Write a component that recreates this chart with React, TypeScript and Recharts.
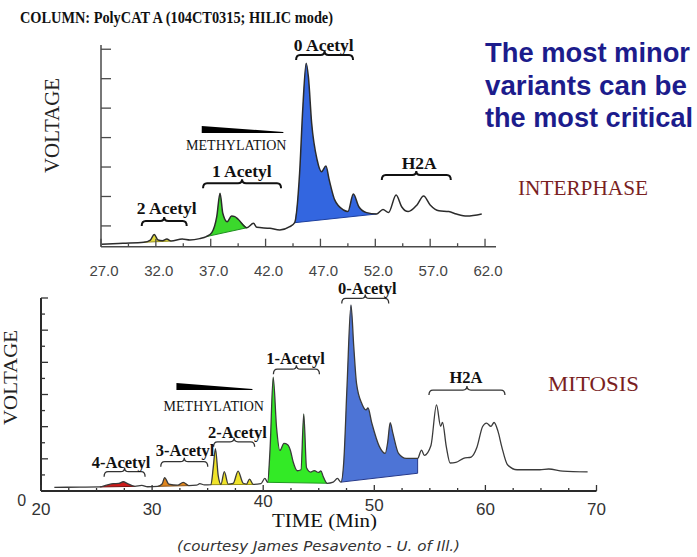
import React from 'react';
import { ComposedChart, Line, Area, XAxis, YAxis, ReferenceDot, ReferenceLine } from 'recharts';

const W = 697;
const H = 557;
const SERIF = '"Liberation Serif", "Times New Roman", serif';
const SANS = '"Liberation Sans", Arial, sans-serif';

// ---- INTERPHASE run (top panel): [time (min), voltage (% of axis)] ----
const interphaseTrace = [
  [27.06, 1.2], [29.0, 1.7], [30.9, 2.2], [31.5, 3.3], [31.85, 6.1], [32.2, 3.3], [32.6, 3.0],
  [33.0, 3.8], [33.4, 2.8], [34.4, 3.8], [35.1, 3.3], [36.0, 4.0], [36.6, 5.0], [37.1, 7.0],
  [37.55, 14.9], [37.85, 26.5], [38.1, 16.6], [38.5, 12.4], [38.9, 15.2], [39.2, 14.9], [39.5, 13.6],
  [40.3, 9.4], [40.9, 11.6], [41.2, 9.6], [42.4, 9.1], [43.3, 8.3], [44.2, 9.9], [44.65, 11.9],
  [45.1, 36.4], [45.4, 69.4], [45.7, 91.0], [45.9, 84.3], [46.2, 61.2], [46.7, 43.0], [47.1, 37.2],
  [47.5, 40.0], [47.8, 33.1], [48.3, 23.2], [49.1, 18.2], [49.5, 17.4], [50.0, 26.1], [50.5, 19.8],
  [51.2, 16.9], [52.1, 16.2], [52.7, 18.5], [53.2, 16.9], [53.9, 25.6], [54.4, 19.8], [55.0, 17.4],
  [55.8, 20.7], [56.4, 25.1], [57.0, 20.7], [57.8, 17.8], [58.7, 17.4], [59.4, 16.2], [60.35, 15.2],
  [61.7, 16.2],
];

// shaded peak groups: 2 acetyl, 1 acetyl, 0 acetyl
const interphaseBands = [
  { from: 30.9, to: 33.4, baseFrom: 2.2, baseTo: 2.8 },
  { from: 36.6, to: 40.3, baseFrom: 5.0, baseTo: 9.4 },
  { from: 44.65, to: 52.1, baseFrom: 11.9, baseTo: 16.2 },
];
const interphaseFills = ['#e4dc3c', '#3bd82c', '#3366e0'];
const interphaseEdges = ['#99921f', '#1f8f1f', '#1d3f9e'];

const interphaseXTicks = [27, 29.5, 32, 34.5, 37, 39.5, 42, 44.5, 47, 49.5, 52, 54.5, 57, 59.5, 62];
const interphaseYTicks = [10.3, 24.9, 39.5, 54.1, 68.7, 83.3, 97.9];

const interphaseLabels = [
  { text: '0 Acetyl', t: 47.3, v: 100.0 },
  { text: '1 Acetyl', t: 39.83, v: 37.5 },
  { text: '2 Acetyl', t: 32.99, v: 19.3 },
  { text: 'H2A', t: 56.0, v: 41.6 },
];
const interphaseBrackets = [
  { t1: 44.78, t2: 49.97, v: 95.0 },
  { t1: 36.3, t2: 43.41, v: 31.4 },
  { t1: 30.71, t2: 34.81, v: 12.7 },
  { t1: 52.59, t2: 58.88, v: 35.5 },
];
const interphaseWedge = { t1: 36.18, t2: 43.62, v: 56.4 };
const interphaseMethylation = { t: 39.33, v: 50.4 };

// ---- MITOSIS run (bottom panel) ----
const mitosisTrace = [
  [21.2, 1.9], [23.5, 2.0], [25.3, 2.1], [25.9, 3.0], [26.5, 3.8], [27.0, 3.9], [27.4, 4.8],
  [27.8, 3.8], [28.45, 2.4], [29.07, 2.9], [29.6, 2.2], [30.5, 2.4], [30.9, 3.6], [31.13, 6.9],
  [31.5, 3.6], [32.3, 3.0], [32.8, 4.5], [33.3, 2.8], [34.0, 3.0], [34.3, 3.8], [34.7, 3.2],
  [35.3, 3.3], [35.5, 12], [35.7, 22], [35.95, 8], [36.2, 3.5], [36.5, 10], [36.85, 3.6],
  [37.3, 4], [37.74, 10.3], [38.2, 4], [38.5, 3.6], [38.77, 6.2], [39.1, 3.4], [39.8, 3.8],
  [40.15, 6.5], [40.4, 4.5], [40.62, 22], [40.9, 59], [41.2, 33], [41.5, 21], [41.87, 24.7],
  [42.2, 24], [42.45, 21], [42.7, 15], [43.07, 10.5], [43.4, 11], [43.65, 40], [43.9, 12],
  [44.27, 9.8], [44.6, 10.6], [44.96, 9.6], [45.2, 10.4], [45.4, 7.5], [45.75, 4], [46.3, 4.6],
  [46.68, 6.5], [47.0, 4.6], [47.25, 15], [47.55, 55], [47.9, 96.4], [48.15, 75], [48.4, 55.8],
  [48.9, 45], [49.26, 42], [49.43, 43], [49.78, 35.1], [50.46, 23], [50.98, 19.5], [51.2, 25],
  [51.43, 35.4], [51.67, 30], [52.18, 19.5], [52.87, 16.9], [53.9, 16.9], [54.25, 21.2],
  [54.5, 18.5], [55.1, 23.6], [55.6, 44.6], [55.97, 33.5], [56.14, 35.5], [56.48, 23],
  [56.83, 14.5], [57.34, 14.8], [58.03, 16.9], [58.72, 17.6], [59.23, 22.5], [59.75, 33.4],
  [60.1, 35.2], [60.5, 33.5], [60.78, 35.5], [61.13, 31], [61.47, 23], [61.99, 13.6],
  [62.85, 11], [64.9, 11], [65.7, 11.4], [66.97, 10.3], [69.2, 9.9],
];

// shaded peak groups: 4, 3, 2, 1, 0 acetyl
const mitosisBands = [
  { from: 25.3, to: 28.45, baseFrom: 2.1, baseTo: 2.4 },
  { from: 30.5, to: 33.3, baseFrom: 2.4, baseTo: 2.8 },
  { from: 35.3, to: 39.1, baseFrom: 3.3, baseTo: 3.4 },
  { from: 40.4, to: 45.75, baseFrom: 4.5, baseTo: 4.0 },
  { from: 47.0, to: 53.9, baseFrom: 4.6, baseTo: 9.2 },
];
const mitosisFills = ['#cc1a1a', '#e0861e', '#f0e42a', '#33ea26', '#4d74d6'];
const mitosisEdges = ['#7a1010', '#8a5010', '#9a9018', '#1f9a1f', '#26398a'];

const mitosisXTicks = [20, 22.5, 25, 27.5, 30, 32.5, 35, 37.5, 40, 42.5, 45, 47.5, 50, 52.5, 55, 57.5, 60, 62.5, 65, 67.5, 70];
const mitosisYTicks = [0, 8.33, 16.67, 25, 33.33, 41.67, 50, 58.33, 66.67, 75, 83.33, 91.67, 100];

const mitosisLabels = [
  { text: '0-Acetyl', t: 49.37, v: 105.0 },
  { text: '1-Acetyl', t: 42.91, v: 68.8 },
  { text: 'H2A', t: 58.25, v: 58.9 },
  { text: '2-Acetyl', t: 37.68, v: 30.2 },
  { text: '3-Acetyl', t: 32.97, v: 20.9 },
  { text: '4-Acetyl', t: 27.21, v: 14.7 },
];
const mitosisBrackets = [
  { t1: 47.07, t2: 51.3, v: 99.8 },
  { t1: 40.92, t2: 45.06, v: 63.1 },
  { t1: 54.92, t2: 61.76, v: 52.3 },
  { t1: 35.53, t2: 39.23, v: 25.5 },
  { t1: 30.78, t2: 35.01, v: 15.2 },
  { t1: 25.68, t2: 29.37, v: 10.0 },
];
const mitosisWedge = { t1: 32.19, t2: 39.03, v: 52.3 };
const mitosisMethylation = { t: 35.55, v: 43.7 };

// ---------- helpers ----------
type Pt = { t: number; v: number };
const toPoints = (rows: number[][]): Pt[] => rows.map(([t, v]) => ({ t, v }));
const slice = (pts: Pt[], a: number, b: number) => pts.filter((p) => p.t >= a - 1e-9 && p.t <= b + 1e-9);
// white mask under the straight base line of a band (a hair wider so no seam shows)
const PAD = 0.08;
const maskOf = (b: { from: number; to: number; baseFrom: number; baseTo: number }) => [
  { t: b.from - PAD, v: b.baseFrom },
  { t: b.from, v: b.baseFrom },
  { t: b.to, v: b.baseTo },
  { t: b.to + PAD, v: b.baseTo },
];

const bracketShape = (weight: number, color: string) => (p: any) => {
  const { x1, x2, y1 } = p;
  const xm = (x1 + x2) / 2;
  const d = 5, u = 4, e = 4;
  const path =
    `M${x1},${y1 + d} Q${x1},${y1} ${x1 + e},${y1} L${xm - e},${y1} Q${xm},${y1} ${xm},${y1 - u} ` +
    `Q${xm},${y1} ${xm + e},${y1} L${x2 - e},${y1} Q${x2},${y1} ${x2},${y1 + d}`;
  return <path d={path} fill="none" stroke={color} strokeWidth={weight} />;
};

const wedgeShape = (p: any) => {
  const { x1, x2, y1 } = p;
  return <polygon points={`${x1},${y1 - 7} ${x2},${y1 - 1} ${x2},${y1} ${x1},${y1}`} fill="#000" />;
};

const edgeShape = (color: string) => (p: any) => (
  <line x1={p.x1} y1={p.y1} x2={p.x2} y2={p.y2} stroke={color} strokeWidth={1} />
);

const textShape = (text: string, size: number, bold: boolean) => (p: any) => (
  <text x={p.cx} y={p.cy} textAnchor="middle" dominantBaseline="central" fontFamily={SERIF}
    fontWeight={bold ? 'bold' : 'normal'} fontSize={size} fill="#111">
    {text}
  </text>
);

const TopXTick = ({ x, y, payload }: any) => {
  const v = payload.value as number;
  const k = (v - 27) / 5;
  const major = Math.abs(k - Math.round(k)) < 1e-6;
  return (
    <g>
      <line x1={x} x2={x} y1={y} y2={y - (major ? 8 : 3.5)} stroke="#4a4a4a" strokeWidth={1.3} />
      {major && (
        <text x={x + 3} y={y + 29.5} textAnchor="middle" fontFamily={SANS} fontSize={15} fill="#444">
          {v.toFixed(1)}
        </text>
      )}
    </g>
  );
};

const TopYTick = ({ x, y }: any) => (
  <line x1={x} x2={x + 10} y1={y} y2={y} stroke="#4a4a4a" strokeWidth={1.3} />
);

const labelLift: Record<number, number> = { 40: 8, 50: 4 };
const BottomXTick = ({ x, y, payload }: any) => {
  const v = payload.value as number;
  const major = Math.abs(v % 10) < 1e-6;
  return (
    <g>
      <line x1={x} x2={x} y1={y} y2={y - (major ? 6 : 3)} stroke="#333" strokeWidth={1.3} />
      {major && (
        <text x={x} y={y + 24 - (labelLift[v] || 0)} textAnchor="middle" fontFamily={SANS} fontSize={17} fill="#333">
          {v}
        </text>
      )}
    </g>
  );
};

const BottomYTick = ({ x, y, index }: any) => {
  if (index === 0) {
    return (
      <text x={x - 19.3} y={y + 15} textAnchor="middle" fontFamily={SANS} fontSize={16} fill="#333">0</text>
    );
  }
  return <line x1={x} x2={x + (index % 2 === 0 ? 7 : 4)} y1={y} y2={y} stroke="#333" strokeWidth={1.3} />;
};

const interphasePts = toPoints(interphaseTrace);
const mitosisPts = toPoints(mitosisTrace);

const abs = (extra: React.CSSProperties = {}): React.CSSProperties => ({ position: 'absolute', left: 0, top: 0, ...extra });

function bandLayers(pts: Pt[], bands: typeof mitosisBands, fills: string[], edges: string[], id: string) {
  const colour = bands.map((b, i) => (
    <Area key={`${id}b${i}`} data={slice(pts, b.from, b.to)} dataKey="v" type="monotone"
      fill={fills[i]} fillOpacity={1} stroke="none" baseValue={0}
      dot={false} activeDot={false} isAnimationActive={false} />
  ));
  const masks = bands.map((b, i) => (
    <Area key={`${id}m${i}`} data={maskOf(b)} dataKey="v" type="linear" fill="#fff" fillOpacity={1}
      stroke="none" baseValue={0} dot={false} activeDot={false} isAnimationActive={false} />
  ));
  const baseLines = bands.map((b, i) => {
    const s = slice(pts, b.from, b.to);
    const end = s[s.length - 1];
    return [
      <ReferenceLine key={`${id}e${i}`} segment={[{ x: b.from, y: b.baseFrom }, { x: b.to, y: b.baseTo }]}
        ifOverflow="visible" shape={edgeShape(edges[i])} />,
      end.v > b.baseTo + 0.5 ? (
        <ReferenceLine key={`${id}r${i}`} segment={[{ x: b.to, y: b.baseTo }, { x: b.to, y: end.v }]}
          ifOverflow="visible" shape={edgeShape(edges[i])} />
      ) : null,
    ];
  });
  return { colour, masks, baseLines };
}

export default function App() {
  const top = bandLayers(interphasePts, interphaseBands, interphaseFills, interphaseEdges, 'i');
  const bot = bandLayers(mitosisPts, mitosisBands, mitosisFills, mitosisEdges, 'm');
  return (
    <div style={abs({ width: W, height: H, background: '#fff', overflow: 'hidden' })}>
      {/* ---------- INTERPHASE ---------- */}
      <div style={abs()}>
        <ComposedChart width={W} height={H} margin={{ top: 45, right: 201, bottom: 280.3, left: 61 }}>
          <XAxis type="number" dataKey="t" domain={[27, 63]} ticks={interphaseXTicks} interval={0}
            tickSize={0} tickMargin={0} tickLine={false} tick={TopXTick} height={30}
            axisLine={{ stroke: '#4a4a4a', strokeWidth: 1.5 }} />
          <YAxis type="number" domain={[0, 100]} ticks={interphaseYTicks} interval={0}
            tickSize={0} tickMargin={0} tickLine={false} tick={TopYTick} width={40}
            axisLine={{ stroke: '#4a4a4a', strokeWidth: 1.5 }} />
          {top.colour}
          {top.masks}
          {top.baseLines}
          <Line data={interphasePts} dataKey="v" type="monotone" stroke="#2b2b2b" strokeWidth={1.5}
            dot={false} activeDot={false} isAnimationActive={false} />
          {interphaseBrackets.map((b, i) => (
            <ReferenceLine key={`ibr${i}`} segment={[{ x: b.t1, y: b.v }, { x: b.t2, y: b.v }]}
              ifOverflow="visible" shape={bracketShape(2, '#111')} />
          ))}
          <ReferenceLine segment={[{ x: interphaseWedge.t1, y: interphaseWedge.v }, { x: interphaseWedge.t2, y: interphaseWedge.v }]}
            ifOverflow="visible" shape={wedgeShape} />
          <ReferenceDot x={interphaseMethylation.t} y={interphaseMethylation.v} r={0} ifOverflow="visible"
            shape={textShape('METHYLATION', 14, false)} />
          {interphaseLabels.map((l, i) => (
            <ReferenceDot key={`il${i}`} x={l.t} y={l.v} r={0} ifOverflow="visible"
              shape={textShape(l.text, 17.5, true)} />
          ))}
        </ComposedChart>
      </div>

      {/* ---------- MITOSIS ---------- */}
      <div style={abs()}>
        <ComposedChart width={W} height={H} margin={{ top: 298, right: 100.5, bottom: 36, left: 1 }}>
          <XAxis type="number" dataKey="t" domain={[20, 70]} ticks={mitosisXTicks} interval={0}
            tickSize={0} tickMargin={0} tickLine={false} tick={BottomXTick} height={30}
            axisLine={{ stroke: '#2a2a2a', strokeWidth: 2 }} />
          <YAxis type="number" domain={[0, 100]} ticks={mitosisYTicks} interval={0}
            tickSize={0} tickMargin={0} tickLine={false} tick={BottomYTick} width={40}
            axisLine={{ stroke: '#2a2a2a', strokeWidth: 2 }} />
          {bot.colour}
          {bot.masks}
          {bot.baseLines}
          <Line data={mitosisPts} dataKey="v" type="monotone" stroke="#3a3a3a" strokeWidth={1.3}
            dot={false} activeDot={false} isAnimationActive={false} />
          {mitosisBrackets.map((b, i) => (
            <ReferenceLine key={`mbr${i}`} segment={[{ x: b.t1, y: b.v }, { x: b.t2, y: b.v }]}
              ifOverflow="visible" shape={bracketShape(1.3, '#333')} />
          ))}
          <ReferenceLine segment={[{ x: mitosisWedge.t1, y: mitosisWedge.v }, { x: mitosisWedge.t2, y: mitosisWedge.v }]}
            ifOverflow="visible" shape={wedgeShape} />
          <ReferenceDot x={mitosisMethylation.t} y={mitosisMethylation.v} r={0} ifOverflow="visible"
            shape={textShape('METHYLATION', 14, false)} />
          {mitosisLabels.map((l, i) => (
            <ReferenceDot key={`ml${i}`} x={l.t} y={l.v} r={0} ifOverflow="visible"
              shape={textShape(l.text, 16.5, true)} />
          ))}
        </ComposedChart>
      </div>

      {/* ---------- page texts ---------- */}
      <svg width={W} height={H} style={abs({ pointerEvents: 'none' })}>
        <text x={20} y={23} fontFamily={SERIF} fontWeight="bold" fontSize={16} fill="#111"
          textLength={313} lengthAdjust="spacingAndGlyphs">COLUMN: PolyCAT A (104CT0315; HILIC mode)</text>
        <g fontFamily={SANS} fontWeight="bold" fontSize={27} fill="#1c1c8c">
          <text x={485} y={62} textLength={205} lengthAdjust="spacingAndGlyphs">The most minor</text>
          <text x={485} y={94.5} textLength={202} lengthAdjust="spacingAndGlyphs">variants can be</text>
          <text x={485} y={127} textLength={208} lengthAdjust="spacingAndGlyphs">the most critical</text>
        </g>
        <text x={518} y={195} fontFamily={SERIF} fontSize={20} fill="#7a1f1f"
          textLength={130} lengthAdjust="spacingAndGlyphs">INTERPHASE</text>
        <text x={548} y={391} fontFamily={SERIF} fontSize={22} fill="#7a1f1f"
          textLength={91} lengthAdjust="spacingAndGlyphs">MITOSIS</text>
        <text transform="translate(52,125.5) rotate(-90)" textAnchor="middle" dominantBaseline="central"
          fontFamily={SERIF} fontSize={20} fill="#222" textLength={95} lengthAdjust="spacingAndGlyphs">VOLTAGE</text>
        <text transform="translate(10,377.5) rotate(-90)" textAnchor="middle" dominantBaseline="central"
          fontFamily={SERIF} fontSize={19} fill="#222" textLength={95} lengthAdjust="spacingAndGlyphs">VOLTAGE</text>
        <text x={272} y={527} fontFamily={SERIF} fontSize={19} fill="#111"
          textLength={105} lengthAdjust="spacingAndGlyphs">TIME (Min)</text>
        <text x={177} y={551} fontFamily='"DejaVu Sans", sans-serif' fontStyle="italic" fontSize={14} fill="#333"
          textLength={283} lengthAdjust="spacingAndGlyphs">(courtesy James Pesavento - U. of Ill.)</text>
      </svg>
    </div>
  );
}
